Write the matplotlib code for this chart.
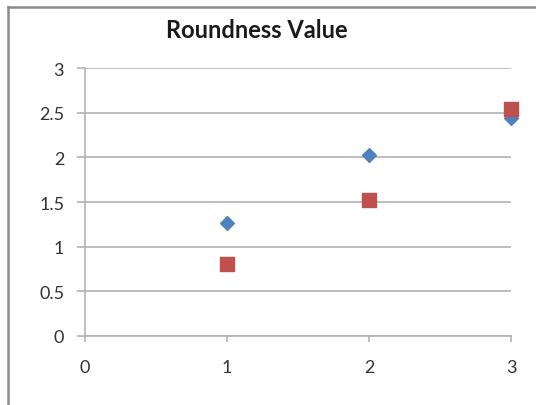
import matplotlib
matplotlib.use("Agg")
import matplotlib.pyplot as plt
from matplotlib.lines import Line2D

title = "Roundness Value"
x_vals = [1, 2, 3]
series_blue = [1.26, 2.03, 2.44]
series_red = [0.81, 1.52, 2.54]
x_ticks = [0, 1, 2, 3]
y_ticks = [0, 0.5, 1, 1.5, 2, 2.5, 3]
y_tick_labels = ["0", "0.5", "1", "1.5", "2", "2.5", "3"]

plt.rcParams['font.family'] = ['Lato', 'DejaVu Sans']

W, H = 536, 406
fig = plt.figure(figsize=(W / 100, H / 100), dpi=100)
fig.patch.set_facecolor('white')

# outer chart-area frame: only left and top edges visible in the crop
frame_c = '#8c8c8c'
fig.add_artist(Line2D([8 / W, 8 / W], [0, 1 - 8 / H], transform=fig.transFigure,
                      color=frame_c, linewidth=1.8))
fig.add_artist(Line2D([8 / W, 1], [1 - 8 / H, 1 - 8 / H], transform=fig.transFigure,
                      color=frame_c, linewidth=1.8))

ax = fig.add_axes([85 / W, (H - 337) / H, (511 - 85) / W, (337 - 69) / H])
ax.set_xlim(0, 3)
ax.set_ylim(0, 3)

grid_c = '#b3b3b3'
for s in ['top', 'right']:
    ax.spines[s].set_visible(False)
for s in ['left', 'bottom']:
    ax.spines[s].set_color(grid_c)
    ax.spines[s].set_linewidth(1.2)

ax.yaxis.grid(True, color=grid_c, linewidth=1.2)
ax.set_axisbelow(True)

ax.set_xticks(x_ticks)
ax.set_xticklabels([str(t) for t in x_ticks])
ax.set_yticks(y_ticks)
ax.set_yticklabels(y_tick_labels)

ax.tick_params(axis='y', length=6, width=1.2, color=grid_c, pad=9,
               labelsize=13, labelcolor='#333333')
ax.tick_params(axis='x', length=4.3, width=1.2, color=grid_c, pad=12.5,
               labelsize=13, labelcolor='#333333')

ax.scatter(x_vals, series_blue, marker='D', s=50, color='#4f81bd',
           edgecolors='#4f81bd', zorder=3, clip_on=False)
ax.scatter(x_vals, series_red, marker='s', s=95, color='#c0504d',
           edgecolors='#c0504d', zorder=3, clip_on=False)

fig.text(257 / W, 1 - 31 / H, title, ha='center', va='center',
         fontsize=17, fontweight='bold', color='#1a1a1a')

fig.savefig('out.png', dpi=100)
